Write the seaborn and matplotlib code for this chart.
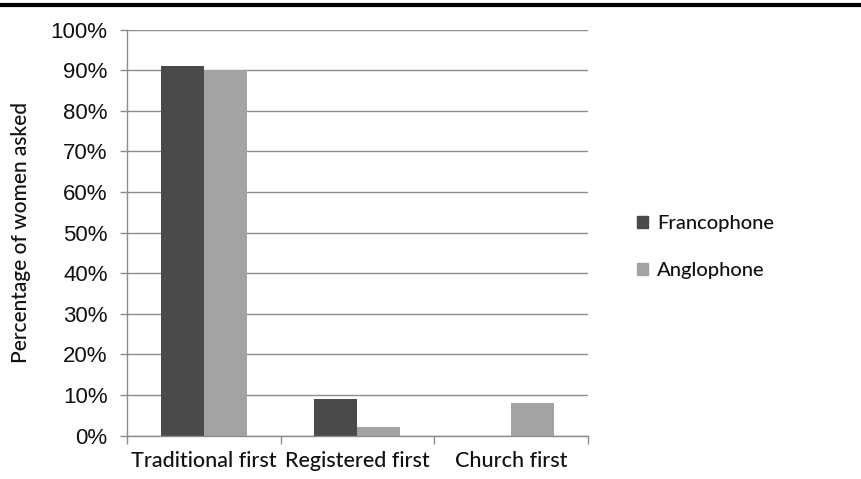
import pandas as pd
import matplotlib.pyplot as plt
import seaborn as sns
from matplotlib.lines import Line2D
from matplotlib.patches import Patch
from matplotlib.ticker import FixedLocator, PercentFormatter

categories = ['Traditional first', 'Registered first', 'Church first']
francophone = [91, 9, 0]
anglophone = [90, 2, 8]
groups = ['Francophone', 'Anglophone']
colors = ['#4a4a4a', '#a3a3a3']

df = pd.DataFrame({
    'category': categories * 2,
    'group': [groups[0]] * 3 + [groups[1]] * 3,
    'value': francophone + anglophone,
})

sns.set_style('white')
fig = plt.figure(figsize=(8.62, 4.79), dpi=100)
ax = fig.add_axes([0.1474, 0.0908, 0.682 - 0.1474, 0.9384 - 0.0908])

sns.barplot(data=df, x='category', y='value', hue='group', palette=colors,
            width=0.56, saturation=1, linewidth=0, ax=ax, legend=False)

ax.set_ylim(0, 100)
ax.set_xlim(-0.5, 2.5)
ax.set_yticks(range(0, 101, 10))
ax.yaxis.set_major_formatter(PercentFormatter(decimals=0))
ax.yaxis.grid(True, color='#8c8c8c', linewidth=1)
ax.set_axisbelow(True)

for side in ['top', 'right']:
    ax.spines[side].set_visible(False)
for side in ['left', 'bottom']:
    ax.spines[side].set_color('#8c8c8c')
    ax.spines[side].set_linewidth(1)

# y ticks: Arial-like, x labels: Calibri-like
ax.tick_params(axis='y', which='major', left=True, length=5, width=1,
               color='#8c8c8c', pad=9, labelsize=16, labelcolor='#111111')
for t in ax.get_yticklabels():
    t.set_fontfamily('Liberation Sans')
ax.tick_params(axis='x', which='major', bottom=False, pad=8, labelsize=15.5,
               labelcolor='#111111')
for t in ax.get_xticklabels():
    t.set_fontfamily('Lato')
    t.set_fontweight('medium')
ax.xaxis.set_minor_locator(FixedLocator([-0.5, 0.5, 1.5, 2.5]))
ax.tick_params(axis='x', which='minor', bottom=True, length=6, width=1, color='#8c8c8c')

ax.set_xlabel('')
ax.set_ylabel('Percentage of women asked', fontsize=15, family='Lato',
              fontweight='medium', color='#111111', labelpad=14)

handles = [Patch(color=c, label=g) for g, c in zip(groups, colors)]
fig.legend(handles=handles, loc='center left', bbox_to_anchor=(0.727, 0.484),
           frameon=False, borderpad=0,
           prop={'family': 'Lato', 'size': 14.5, 'weight': 'medium'},
           labelcolor='#111111',
           handlelength=0.55, handleheight=0.55, handletextpad=0.45, labelspacing=1.5)

fig.add_artist(Line2D([0, 1], [0.99, 0.99], color='black', linewidth=3,
                      transform=fig.transFigure))

fig.savefig('out.png', dpi=100)
